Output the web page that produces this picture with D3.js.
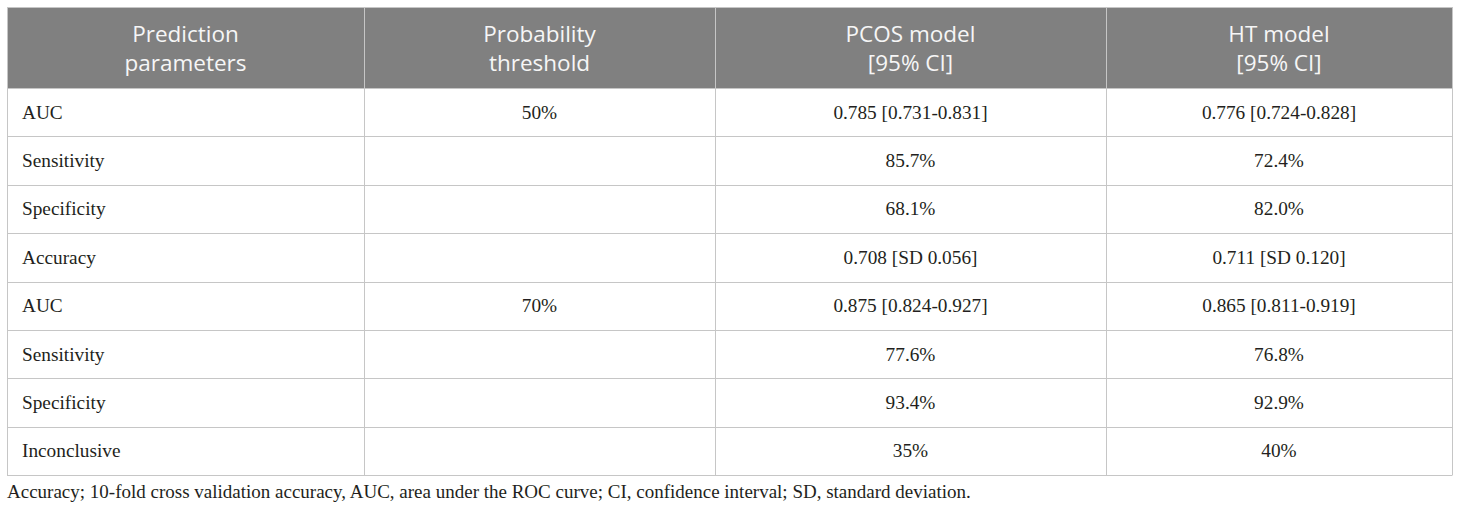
<!DOCTYPE html>
<html>
<head>
<meta charset="utf-8">
<script src="https://cdn.jsdelivr.net/npm/d3@7"></script>
<style>
  html, body { margin: 0; padding: 0; background: #fff; }
  svg { display: block; }
</style>
</head>
<body>
<script>
// ---- data ----
const headers = [["Prediction", "parameters"], ["Probability", "threshold"], ["PCOS model", "[95% CI]"], ["HT model", "[95% CI]"]];
const parameters = ["AUC", "Sensitivity", "Specificity", "Accuracy", "AUC", "Sensitivity", "Specificity", "Inconclusive"];
const thresholds = ["50%", "", "", "", "70%", "", "", ""];
const pcosModel = ["0.785 [0.731-0.831]", "85.7%", "68.1%", "0.708 [SD 0.056]", "0.875 [0.824-0.927]", "77.6%", "93.4%", "35%"];
const htModel = ["0.776 [0.724-0.828]", "72.4%", "82.0%", "0.711 [SD 0.120]", "0.865 [0.811-0.919]", "76.8%", "92.9%", "40%"];
const footnote = "Accuracy; 10-fold cross validation accuracy, AUC, area under the ROC curve; CI, confidence interval; SD, standard deviation.";

// ---- layout ----
const W = 1460, H = 512;
const colEdges = [7, 364, 715, 1106, 1452];
const tableTop = 7, headBottom = 88, tableBottom = 475;
const columns = [parameters, thresholds, pcosModel, htModel];

const svg = d3.select("body").append("svg").attr("width", W).attr("height", H);

const y = d3.scaleBand().domain(d3.range(parameters.length)).range([headBottom, tableBottom]);
const x = d3.scaleOrdinal().domain(d3.range(4)).range(colEdges.slice(0, 4));
const xr = d3.scaleOrdinal().domain(d3.range(4)).range(colEdges.slice(1));

const lineColor = "#c6c6c6";

// header background
svg.append("rect").attr("x", colEdges[0]).attr("y", tableTop)
  .attr("width", colEdges[4] - colEdges[0]).attr("height", headBottom - tableTop)
  .attr("fill", "#808080");

// horizontal lines
const hLines = [tableTop, headBottom].concat(d3.range(parameters.length).map(i => y(i) + y.bandwidth()));
svg.selectAll("line.h").data(hLines).join("line")
  .attr("x1", colEdges[0]).attr("x2", colEdges[4])
  .attr("y1", d => Math.round(d) + 0.5).attr("y2", d => Math.round(d) + 0.5)
  .attr("stroke", lineColor).attr("stroke-width", 1);

// vertical lines
svg.selectAll("line.v").data(colEdges).join("line")
  .attr("x1", d => d + 0.5).attr("x2", d => d + 0.5)
  .attr("y1", tableTop).attr("y2", tableBottom + 0.5)
  .attr("stroke", lineColor).attr("stroke-width", 1);

// header text
headers.forEach((lines, c) => {
  const cx = (x(c) + xr(c)) / 2;
  const t = svg.append("text").attr("x", cx).attr("y", 42)
    .attr("text-anchor", "middle")
    .attr("font-family", "'Open Sans', sans-serif").attr("font-size", 22.5)
    .attr("fill", "#f6f6f6");
  lines.forEach((ln, i) => {
    t.append("tspan").attr("x", cx).attr("dy", i === 0 ? 0 : 29).text(ln);
  });
});

// body text
columns.forEach((col, c) => {
  svg.selectAll("text.c" + c).data(col).join("text")
    .attr("class", "c" + c)
    .attr("x", c === 0 ? x(c) + 15 : (x(c) + xr(c)) / 2)
    .attr("y", (d, i) => y(i) + y.bandwidth() / 2 + 6.5)
    .attr("text-anchor", c === 0 ? "start" : "middle")
    .attr("font-family", "'Liberation Serif', serif").attr("font-size", 19.3)
    .attr("fill", "#231f20")
    .text(d => d);
});

// footnote
svg.append("text").attr("x", 7).attr("y", 498)
  .attr("font-family", "'Liberation Serif', serif").attr("font-size", 19)
  .attr("fill", "#231f20").text(footnote);
</script>
</body>
</html>
